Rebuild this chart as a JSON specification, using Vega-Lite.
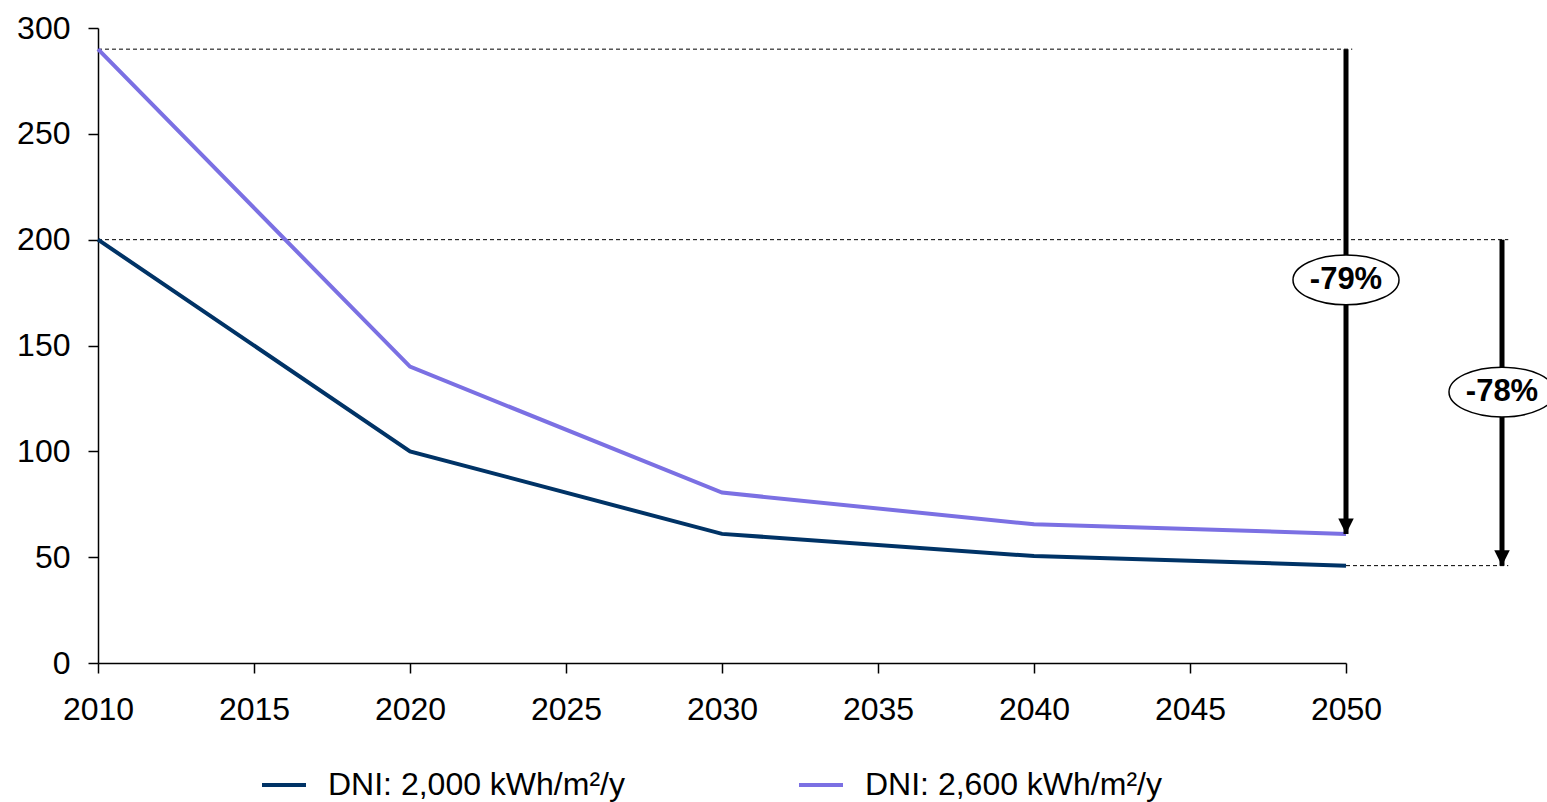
{
  "$schema": "https://vega.github.io/schema/vega-lite/v6.json",
  "width": 1248,
  "height": 635,
  "autosize": {"type": "none"},
  "padding": {"left": 98, "top": 28, "right": 201, "bottom": 139},
  "background": "white",
  "config": {
    "view": {"stroke": null},
    "font": "Liberation Sans",
    "axis": {
      "grid": false,
      "title": null,
      "domainColor": "black",
      "domainWidth": 1.5,
      "tickColor": "black",
      "tickWidth": 1.5,
      "tickSize": 10,
      "labelFont": "Liberation Sans",
      "labelFontSize": 32,
      "labelColor": "black",
      "labelFlush": false,
      "labelOverlap": false
    }
  },
  "datasets": {
    "main": [
      {"x": 2010, "y": 200, "series": "DNI: 2,000 kWh/m²/y"},
      {"x": 2020, "y": 100, "series": "DNI: 2,000 kWh/m²/y"},
      {"x": 2030, "y": 61, "series": "DNI: 2,000 kWh/m²/y"},
      {"x": 2040, "y": 50.5, "series": "DNI: 2,000 kWh/m²/y"},
      {"x": 2050, "y": 46, "series": "DNI: 2,000 kWh/m²/y"},
      {"x": 2010, "y": 290, "series": "DNI: 2,600 kWh/m²/y"},
      {"x": 2020, "y": 140, "series": "DNI: 2,600 kWh/m²/y"},
      {"x": 2030, "y": 80.5, "series": "DNI: 2,600 kWh/m²/y"},
      {"x": 2040, "y": 65.5, "series": "DNI: 2,600 kWh/m²/y"},
      {"x": 2050, "y": 61, "series": "DNI: 2,600 kWh/m²/y"}
    ],
    "dashes": [
      {"x": 2010, "x2": 2050.2, "y": 290},
      {"x": 2010, "x2": 2055.2, "y": 200},
      {"x": 2050, "x2": 2055.2, "y": 46}
    ],
    "arrows": [
      {"x": 2050, "y": 290, "y2": 61, "ly": 181, "label": "-79%"},
      {"x": 2055, "y": 200, "y2": 46, "ly": 128, "label": "-78%"}
    ]
  },
  "encoding": {
    "x": {
      "field": "x",
      "type": "quantitative",
      "scale": {"domain": [2010, 2050], "nice": false, "zero": false},
      "axis": {"values": [2010, 2015, 2020, 2025, 2030, 2035, 2040, 2045, 2050], "format": "d", "labelPadding": 21}
    },
    "y": {
      "field": "y",
      "type": "quantitative",
      "scale": {"domain": [0, 300], "nice": false},
      "axis": {"values": [0, 50, 100, 150, 200, 250, 300], "labelPadding": 18}
    }
  },
  "layer": [
    {
      "data": {"name": "dashes"},
      "mark": {"type": "rule", "color": "black", "strokeWidth": 1, "strokeDash": [4, 3]},
      "encoding": {"x2": {"field": "x2"}}
    },
    {
      "data": {"name": "main"},
      "mark": {"type": "line", "strokeWidth": 4},
      "encoding": {
        "color": {
          "field": "series",
          "type": "nominal",
          "scale": {"domain": ["DNI: 2,000 kWh/m²/y", "DNI: 2,600 kWh/m²/y"], "range": ["#003366", "#7B70E3"]},
          "legend": {
            "orient": "none",
            "legendX": 162,
            "legendY": 733,
            "direction": "horizontal",
            "title": null,
            "symbolType": "stroke",
            "symbolSize": 1936,
            "symbolStrokeWidth": 4,
            "labelFontSize": 32,
            "labelColor": "black",
            "labelFont": "Liberation Sans",
            "labelOffset": 20,
            "columnPadding": 166,
            "labelLimit": 600,
            "padding": 0
          }
        }
      }
    },
    {
      "data": {"name": "arrows"},
      "mark": {"type": "rule", "color": "black", "strokeWidth": 5},
      "encoding": {"y2": {"field": "y2"}}
    },
    {
      "data": {"name": "arrows"},
      "mark": {"type": "point", "shape": "M -1 -2 L 1 -2 L 0 0 Z", "filled": true, "color": "black", "opacity": 1, "size": 240},
      "encoding": {"y": {"field": "y2", "type": "quantitative"}}
    },
    {
      "data": {"name": "arrows"},
      "mark": {"type": "point", "shape": "M -1 0 C -1 -0.26 -0.552 -0.47 0 -0.47 C 0.552 -0.47 1 -0.26 1 0 C 1 0.26 0.552 0.47 0 0.47 C -0.552 0.47 -1 0.26 -1 0 Z", "filled": false, "fill": "white", "fillOpacity": 1, "stroke": "black", "strokeWidth": 1.5, "opacity": 1, "size": 11236},
      "encoding": {"y": {"field": "ly", "type": "quantitative"}}
    },
    {
      "data": {"name": "arrows"},
      "mark": {"type": "text", "font": "Liberation Sans", "fontWeight": "bold", "fontSize": 31, "color": "black", "align": "center", "baseline": "middle"},
      "encoding": {"y": {"field": "ly", "type": "quantitative"}, "text": {"field": "label"}}
    }
  ]
}
